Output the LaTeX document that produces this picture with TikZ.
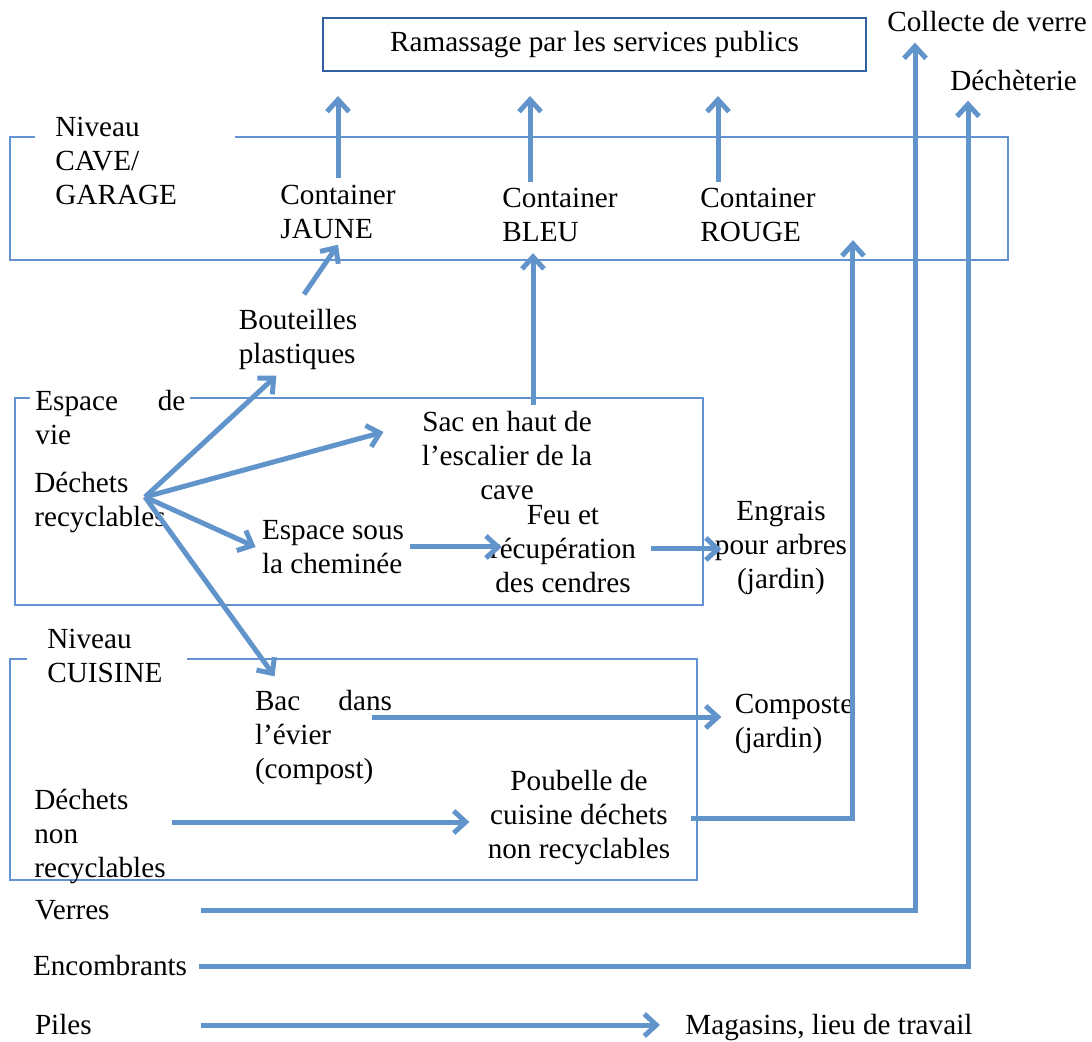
\documentclass[tikz,border=0pt]{standalone}
\usepackage{fontspec}
\setmainfont{Liberation Serif}
\usetikzlibrary{arrows.meta}
\definecolor{flowblue}{RGB}{98,148,204}
\definecolor{frameblue}{RGB}{100,145,210}
\definecolor{topblue}{RGB}{50,95,160}
\begin{document}
\begin{tikzpicture}[x=0.5pt,y=-0.5pt,
    every node/.style={font=\fontsize{14.6}{17}\selectfont,inner sep=3pt},
    floorbox/.style={draw=frameblue,line width=0.8pt,inner sep=0pt},
    floortag/.style={fill=white,align=left,inner xsep=10pt},
    flowarrow/.style={color=flowblue,line width=2.5pt,-{Straight Barb[length=6pt,width=11pt]}}]
  \useasboundingbox (0,0) rectangle (1092,1042);
  % levels
  \node[draw=topblue,line width=1pt,minimum width=271.5pt,minimum height=26.5pt,name=ramassage] at (594.5,44.5) {Ramassage par les services publics};
  \node[floorbox,minimum width=499pt,minimum height=61.5pt,name=cave] at (509,198.5) {};
  \node[floorbox,minimum width=344pt,minimum height=103.5pt,name=vie] at (359,501.5) {};
  \node[floorbox,minimum width=343.5pt,minimum height=110.5pt,name=cuisine] at (353.5,769.5) {};
  \node[floortag,text width=80pt,anchor=west,name=cavetag] at (35,161) {Niveau\\CAVE/\\GARAGE};
  \node[floortag,inner xsep=2.5pt,text width=75pt,anchor=west,name=vietag] at (30,418) {Espace\hfill de\\vie};
  \node[floortag,text width=60pt,anchor=west,name=cuisinetag] at (27,656) {Niveau\\CUISINE};

  % containers and places
  \node[align=left,name=jaune] at (338,211.5) {Container\\JAUNE};
  \node[align=left,name=bleu] at (560,215) {Container\\BLEU};
  \node[align=left,name=rouge] at (758,215) {Container\\ROUGE};
  \node[anchor=west,name=collecte] at (881,22) {Collecte de verre};
  \node[anchor=west,name=decheterie] at (944,80) {Déchèterie};
  \node[align=left,name=bouteilles] at (298,339) {Bouteilles\\plastiques};
  \node[align=left,name=recyclables] at (100,503) {Déchets\\recyclables};
  \node[align=center,name=sac] at (507,456) {Sac en haut de\\l’escalier de la\\cave};
  \node[align=left,name=cheminee] at (333,547) {Espace sous\\la cheminée};
  \node[align=center,name=feu] at (563,549) {Feu et\\récupération\\des cendres};
  \node[align=center,name=engrais] at (781,548) {Engrais\\pour arbres\\(jardin)};
  \node[align=left,text width=68.5pt,name=bac] at (323.5,737) {Bac\hfill dans\\l’évier\\(compost)};
  \node[align=left,name=composte] at (794,724) {Composte\\(jardin)};
  \node[align=left,name=nonrec] at (100,836) {Déchets\\non\\recyclables};
  \node[align=center,name=poubelle] at (579,818) {Poubelle de\\cuisine déchets\\non recyclables};
  \node[align=left,text width=80pt,name=verres] at (115,910) {Verres};
  \node[align=left,text width=80pt,name=encombrants] at (113,966) {Encombrants};
  \node[align=left,text width=80pt,name=piles] at (115,1025) {Piles};
  \node[anchor=west,name=magasins] at (679,1028) {Magasins, lieu de travail};

  \coordinate (hub) at (145,497);
  \path[flowarrow]
     (jaune.north) edge[shorten >=12pt] (jaune.north |- ramassage.south)
     ([xshift=-15pt]bleu.north) edge[shorten >=12pt] ([xshift=-15pt]bleu.north |- ramassage.south)
     ([xshift=-20pt]rouge.north) edge[shorten >=12pt] ([xshift=-20pt]rouge.north |- ramassage.south)
     ([xshift=3pt,yshift=4pt]bouteilles.north) edge (jaune.south)
     ([xshift=13pt]sac.north) edge[shorten >=2.5pt] ([xshift=13pt]sac.north |- bleu.south)
     (hub) edge ([xshift=22pt]bouteilles.south west)
     (hub) edge ([xshift=-16pt,yshift=12pt]sac.west)
     (hub) edge (cheminee.west)
     (hub) edge ([xshift=13pt,yshift=3.5pt]bac.north west)
     (cheminee.east) edge[shorten >=-9pt] (cheminee.east -| feu.west)
     ([xshift=4.5pt]feu.east) edge[shorten >=-6.5pt] (feu.east -| engrais.west)
     ([xshift=-13pt,yshift=3.5pt]bac.east |- composte.west) edge[shorten >=3.5pt] ([yshift=3.5pt]composte.west)
     ([yshift=7pt]nonrec.east) edge[shorten >=6pt] ([yshift=7pt]nonrec.east -| poubelle.west)
     (piles.east) edge[shorten >=9.5pt] (piles.east -| magasins.west);
  \draw[flowarrow,shorten <=7pt] (poubelle.east) -| ([xshift=15.5pt,yshift=4pt]rouge.south east);
  \draw[flowarrow,shorten >=2pt] (verres.east) -| ([xshift=17pt]collecte.south west);
  \draw[flowarrow,shorten >=2pt] (encombrants.east) -| ([xshift=12pt]decheterie.south west);
\end{tikzpicture}
\end{document}
